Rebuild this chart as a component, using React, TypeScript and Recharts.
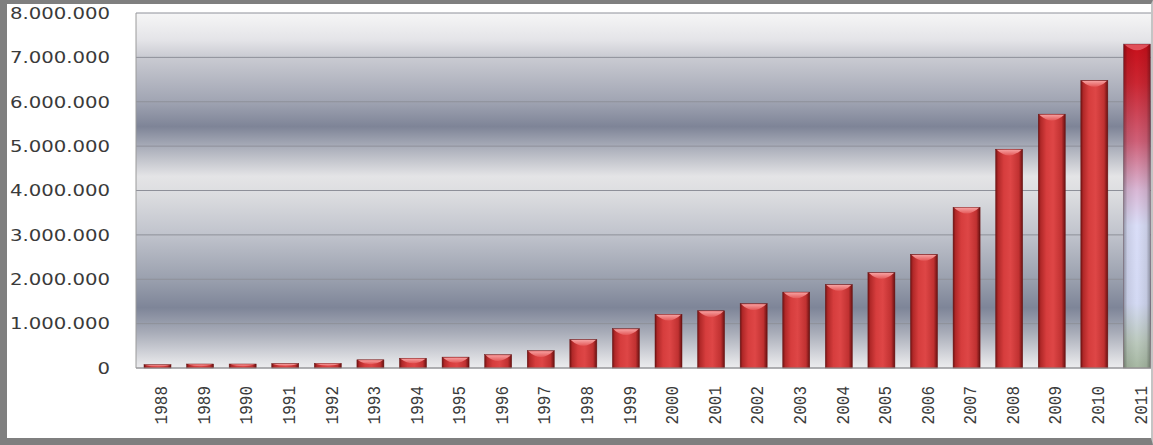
import React from "react";
import { BarChart, Bar, XAxis, YAxis, CartesianGrid } from "recharts";

// yearly totals
const YEARS = [
  "1988", "1989", "1990", "1991", "1992", "1993", "1994", "1995",
  "1996", "1997", "1998", "1999", "2000", "2001", "2002", "2003",
  "2004", "2005", "2006", "2007", "2008", "2009", "2010", "2011",
];
const TOTALS = [
  75000, 90000, 90000, 100000, 105000, 185000, 220000, 245000,
  300000, 390000, 640000, 885000, 1210000, 1290000, 1450000, 1710000,
  1880000, 2150000, 2560000, 3620000, 4930000, 5720000, 6480000, 7300000,
];
const Y_TICKS = [0, 1000000, 2000000, 3000000, 4000000, 5000000, 6000000, 7000000, 8000000];
const HIGHLIGHT_YEAR = "2011";

const data = YEARS.map((year, i) => ({ year, total: TOTALS[i] }));

function dotted(v: number): string {
  return String(Math.round(v)).replace(/\B(?=(\d{3})+(?!\d))/g, ".");
}

function YTick(props: any) {
  const { x, y, payload } = props;
  return (
    <g transform={`translate(${x},${y}) scale(1.23,1)`}>
      <text
        x={0}
        y={0}
        dy="0.36em"
        textAnchor="end"
        fontFamily="'DejaVu Sans', Verdana, sans-serif"
        fontSize={16}
        fill="#3a3a3a"
      >
        {dotted(payload.value)}
      </text>
    </g>
  );
}

function XTick(props: any) {
  const { x, y, payload } = props;
  return (
    <g transform={`translate(${x + 3},${y}) scale(1.2,1) rotate(-90)`}>
      <text
        x={0}
        y={0}
        dy="0.36em"
        textAnchor="end"
        fontFamily="'Liberation Mono', 'DejaVu Sans Mono', monospace"
        fontSize={16}
        fill="#3a3a3a"
      >
        {payload.value}
      </text>
    </g>
  );
}

function Bar3D(props: any) {
  const { x, y, width, height, payload } = props;
  if (!height || height <= 0) return null;
  const cap = Math.min(6, height / 2);
  const special = payload && payload.year === HIGHLIGHT_YEAR;
  const capPath = `M${x + 1},${y + 0.5} L${x + width - 1},${y + 0.5} Q${x + width / 2},${y + cap * 2} ${x + 1},${y + 0.5} Z`;
  if (special) {
    return (
      <g>
        <rect x={x} y={y} width={width} height={height} fill="url(#hiBody)" />
        <rect x={x} y={y} width={width} height={height} fill="url(#edgeShade)" stroke="#6d5560" strokeWidth={0.5} />
        <path d={capPath} fill="#e8606a" opacity={0.8} />
      </g>
    );
  }
  return (
    <g>
      <rect x={x} y={y} width={width} height={height} fill="url(#barBody)" stroke="#6a1414" strokeWidth={0.5} />
      <path d={capPath} fill="url(#barCap)" />
    </g>
  );
}

export default function App() {
  return (
    <div
      style={{
        position: "fixed",
        left: 0,
        top: 0,
        width: 1153,
        height: 445,
        overflow: "hidden",
        background: "#ffffff",
      }}
    >
      <BarChart
        width={1158}
        height={445}
        data={data}
        margin={{ top: 13, right: 0, bottom: 0, left: 0 }}
        barSize={27}
      >
        <defs>
          <linearGradient id="plotBg" x1="0" y1="0" x2="0" y2="1">
            <stop offset="0%" stopColor="#f6f6f6" />
            <stop offset="7.6%" stopColor="#e4e4e8" />
            <stop offset="12.4%" stopColor="#cacbd2" />
            <stop offset="24.5%" stopColor="#a2a6b4" />
            <stop offset="32%" stopColor="#7e8497" />
            <stop offset="37%" stopColor="#a4a8b5" />
            <stop offset="46%" stopColor="#e4e4e6" />
            <stop offset="51%" stopColor="#dcdde0" />
            <stop offset="62.5%" stopColor="#c0c3cc" />
            <stop offset="75%" stopColor="#9aa0ae" />
            <stop offset="83%" stopColor="#7e8598" />
            <stop offset="90%" stopColor="#a8acb8" />
            <stop offset="97.7%" stopColor="#dedfe3" />
            <stop offset="100%" stopColor="#ececee" />
          </linearGradient>
          <linearGradient id="barBody" x1="0" y1="0" x2="1" y2="0">
            <stop offset="0%" stopColor="#701212" />
            <stop offset="9%" stopColor="#b02828" />
            <stop offset="30%" stopColor="#d63d3d" />
            <stop offset="55%" stopColor="#de4646" />
            <stop offset="86%" stopColor="#c03131" />
            <stop offset="100%" stopColor="#681010" />
          </linearGradient>
          <linearGradient id="barCap" x1="0" y1="0" x2="0" y2="1">
            <stop offset="0%" stopColor="#f6a0a0" />
            <stop offset="100%" stopColor="#e45858" />
          </linearGradient>
          <linearGradient id="hiBody" x1="0" y1="0" x2="0" y2="1">
            <stop offset="0%" stopColor="#c80f1a" />
            <stop offset="12%" stopColor="#cc2632" />
            <stop offset="30%" stopColor="#d06078" />
            <stop offset="45%" stopColor="#dab8d6" />
            <stop offset="56%" stopColor="#dadef8" />
            <stop offset="80%" stopColor="#d4daf4" />
            <stop offset="92%" stopColor="#bccabe" />
            <stop offset="100%" stopColor="#a6b8a2" />
          </linearGradient>
          <linearGradient id="edgeShade" x1="0" y1="0" x2="1" y2="0">
            <stop offset="0%" stopColor="#000000" stopOpacity={0.35} />
            <stop offset="15%" stopColor="#000000" stopOpacity={0.08} />
            <stop offset="50%" stopColor="#000000" stopOpacity={0} />
            <stop offset="85%" stopColor="#000000" stopOpacity={0.08} />
            <stop offset="100%" stopColor="#000000" stopOpacity={0.35} />
          </linearGradient>
        </defs>
        <CartesianGrid vertical={false} stroke="#8e9099" fill="url(#plotBg)" fillOpacity={1} />
        <XAxis
          dataKey="year"
          height={77}
          interval={0}
          tick={<XTick />}
          tickLine={false}
          tickMargin={12}
          axisLine={{ stroke: "#9a9a9a" }}
        />
        <YAxis
          width={136}
          domain={[0, 8000000]}
          ticks={Y_TICKS}
          interval={0}
          tick={<YTick />}
          tickLine={false}
          tickMargin={20}
          axisLine={{ stroke: "#9a9a9a" }}
        />
        <Bar dataKey="total" shape={<Bar3D />} isAnimationActive={false} />
      </BarChart>
      <div
        style={{
          position: "absolute",
          left: 0,
          top: 0,
          width: 1153,
          height: 445,
          boxSizing: "border-box",
          borderTop: "4px solid #7f7f7f",
          borderLeft: "7px solid #7f7f7f",
          borderBottom: "7px solid #7f7f7f",
          borderRight: "2px solid #c4c4c4",
          pointerEvents: "none",
        }}
      />
    </div>
  );
}
